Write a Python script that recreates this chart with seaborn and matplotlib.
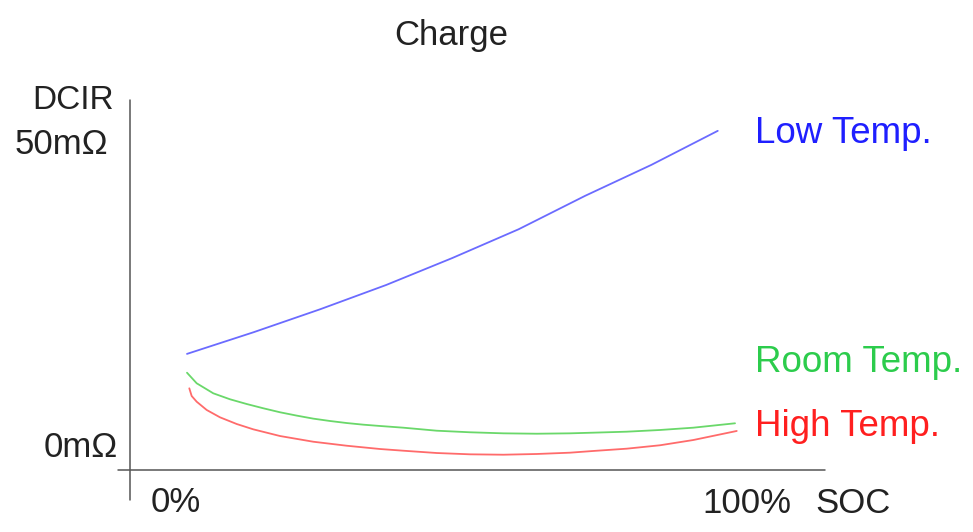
import matplotlib
matplotlib.use("Agg")
import matplotlib.pyplot as plt
from matplotlib.lines import Line2D
import seaborn as sns
import pandas as pd

# ---- data ----
low_soc = [0, 12.1, 24.2, 36.2, 48.2, 60.3, 72.4, 84.4, 96.5]
low_dcir = [17.7, 21.0, 24.5, 28.2, 32.3, 36.7, 41.8, 46.5, 51.7]

room_soc = [0.0, 1.76, 4.78, 7.82, 10.85, 13.87, 16.91, 19.95, 22.96, 26.0, 29.04, 32.05,
            35.09, 39.33, 45.4, 51.45, 57.51, 63.58, 69.64, 73.87, 79.95, 86.0, 92.05, 99.64]
room_dcir = [14.83, 13.22, 11.69, 10.78, 10.06, 9.41, 8.80, 8.29, 7.83, 7.47, 7.16, 6.91,
             6.71, 6.45, 5.99, 5.75, 5.59, 5.53, 5.59, 5.69, 5.84, 6.10, 6.45, 7.12]

high_soc = [0.42, 0.85, 1.76, 3.58, 6.0, 9.04, 12.05, 16.91, 22.96, 29.04, 35.09, 39.33,
            45.4, 51.45, 57.51, 63.58, 69.64, 73.87, 79.95, 86.0, 92.05, 99.95]
high_dcir = [12.45, 11.28, 10.41, 9.15, 8.03, 7.01, 6.20, 5.18, 4.31, 3.70, 3.20, 2.94,
             2.59, 2.39, 2.33, 2.44, 2.64, 2.90, 3.25, 3.77, 4.57, 5.95]

series_names = ["Low Temp.", "Room Temp.", "High Temp."]
line_colors = ["#6b6bff", "#6ad86a", "#ff6b6b"]
text_colors = ["#1f1fff", "#2ccc4c", "#ff1f1f"]

df = pd.concat([
    pd.DataFrame({"SOC": low_soc, "DCIR": low_dcir, "Temp": series_names[0]}),
    pd.DataFrame({"SOC": room_soc, "DCIR": room_dcir, "Temp": series_names[1]}),
    pd.DataFrame({"SOC": high_soc, "DCIR": high_dcir, "Temp": series_names[2]}),
], ignore_index=True)

sns.set_theme(style="white")
plt.rcParams["font.family"] = ["Liberation Sans", "DejaVu Sans"]

W, H = 973, 532
fig = plt.figure(figsize=(W / 100, H / 100), dpi=100)
ax = fig.add_axes([0, 0, 1, 1])

sns.lineplot(data=df, x="SOC", y="DCIR", hue="Temp", palette=dict(zip(series_names, line_colors)),
             sort=False, estimator=None, legend=False, linewidth=1.3, ax=ax)

# pixel mapping: SOC 0 -> px 187, 100 -> px 737 ; DCIR 0 -> py 470, 50 -> py 142
x0, xs = 187.0, 5.5
y0, ys = 470.0, 6.56
ax.set_xlim(-x0 / xs, (W - x0) / xs)
ax.set_ylim((y0 - H) / ys, y0 / ys)
ax.axis("off")

def fx(px):
    return px / W

def fy(py):
    return 1 - py / H

# axis lines
axis_col = "#555555"
fig.add_artist(Line2D([fx(130), fx(130)], [fy(100), fy(500)], color=axis_col, lw=1.1))
fig.add_artist(Line2D([fx(118), fx(825)], [fy(470), fy(470)], color=axis_col, lw=1.1))

txt = "#222222"
fs = 25
fig.text(fx(451), fy(45), "Charge", ha="center", va="baseline", fontsize=fs, color=txt)
fig.text(fx(114), fy(109), "DCIR", ha="right", va="baseline", fontsize=24, color=txt)
fig.text(fx(108), fy(154), "50mΩ", ha="right", va="baseline", fontsize=fs, color=txt)
fig.text(fx(118), fy(457), "0mΩ", ha="right", va="baseline", fontsize=fs, color=txt)
fig.text(fx(176), fy(512), "0%", ha="center", va="baseline", fontsize=fs, color=txt)
fig.text(fx(702), fy(513), "100%", ha="left", va="baseline", fontsize=fs, color=txt)
fig.text(fx(815), fy(513), "SOC", ha="left", va="baseline", fontsize=fs, color=txt)

label_y = [143, 372, 436]
for name, col, py in zip(series_names, text_colors, label_y):
    fig.text(fx(755), fy(py), name, ha="left", va="baseline", fontsize=26.5, color=col)

fig.savefig("out.png", dpi=100, facecolor="white")
